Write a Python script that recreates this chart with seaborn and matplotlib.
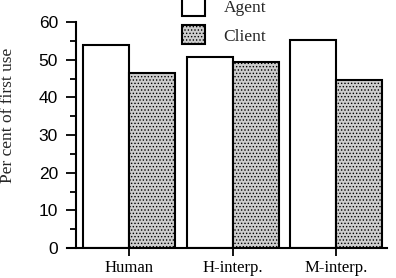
import matplotlib
matplotlib.use("Agg")
import matplotlib.pyplot as plt
import numpy as np
import pandas as pd
import seaborn as sns
from matplotlib.patches import Patch
from matplotlib.ticker import MultipleLocator

# values
conditions = ["Human", "H-interp.", "M-interp."]
roles = ["Agent", "Client"]
agent_pct = [53.8, 50.6, 55.3]
client_pct = [46.5, 49.5, 44.6]

df = pd.DataFrame({
    "condition": conditions * 2,
    "role": ["Agent"] * 3 + ["Client"] * 3,
    "percent": agent_pct + client_pct,
})

sns.set_style("ticks")
plt.rcParams["font.family"] = ["Liberation Serif", "DejaVu Serif"]
plt.rcParams["hatch.color"] = "#7a7a7a"
plt.rcParams["hatch.linewidth"] = 0.6

fig = plt.figure(figsize=(3.96, 2.78), dpi=100)
# axes box in pixels: x 67..387, y 22..248
ax = fig.add_axes([67 / 396, 1 - 248 / 278, 320 / 396, 226 / 278])

grey = "#cdcdcd"
palette = {"Agent": "white", "Client": grey}
sns.barplot(data=df, x="condition", y="percent", hue="role", hue_order=roles,
            palette=palette, width=0.89, gap=0, edgecolor="black", linewidth=1.5,
            saturation=1, legend=False, ax=ax)

# stipple for the client bars
for bar in ax.patches[3:6]:
    bar.set_hatch(".....")

ax.set_xlim(-0.6, 2.49)
ax.set_ylim(0, 60)
ax.yaxis.set_major_locator(MultipleLocator(10))
ax.yaxis.set_minor_locator(MultipleLocator(5))

sns.despine(ax=ax)
ax.spines["left"].set_position(("axes", 0.028))
for s in ["left", "bottom"]:
    ax.spines[s].set_linewidth(1.5)
    ax.spines[s].set_color("black")

ax.tick_params(axis="y", which="major", length=7, width=1.3, pad=6,
               labelsize=12.5, colors="black")
ax.tick_params(axis="y", which="minor", length=4, width=1.3, colors="black")
ax.tick_params(axis="x", length=6, width=1.3, pad=2.5, labelsize=12, colors="black")
for lab in ax.get_yticklabels():
    lab.set_family("Liberation Sans")

ax.set_xlabel("")
ax.set_ylabel("Per cent of first use", fontsize=12.5)
ax.yaxis.set_label_coords(-0.16, 0.585)

handles = [Patch(facecolor="white", edgecolor="black", linewidth=1.5),
           Patch(facecolor=grey, edgecolor="black", linewidth=1.5, hatch=".....")]
fig.legend(handles, roles, loc="upper left", bbox_to_anchor=(182 / 396, 1.012),
           frameon=False, fontsize=12.5, borderpad=0, borderaxespad=0,
           handlelength=1.3, handleheight=1.3, handletextpad=1.1, labelspacing=0.55)

fig.savefig("out.png", dpi=100)
